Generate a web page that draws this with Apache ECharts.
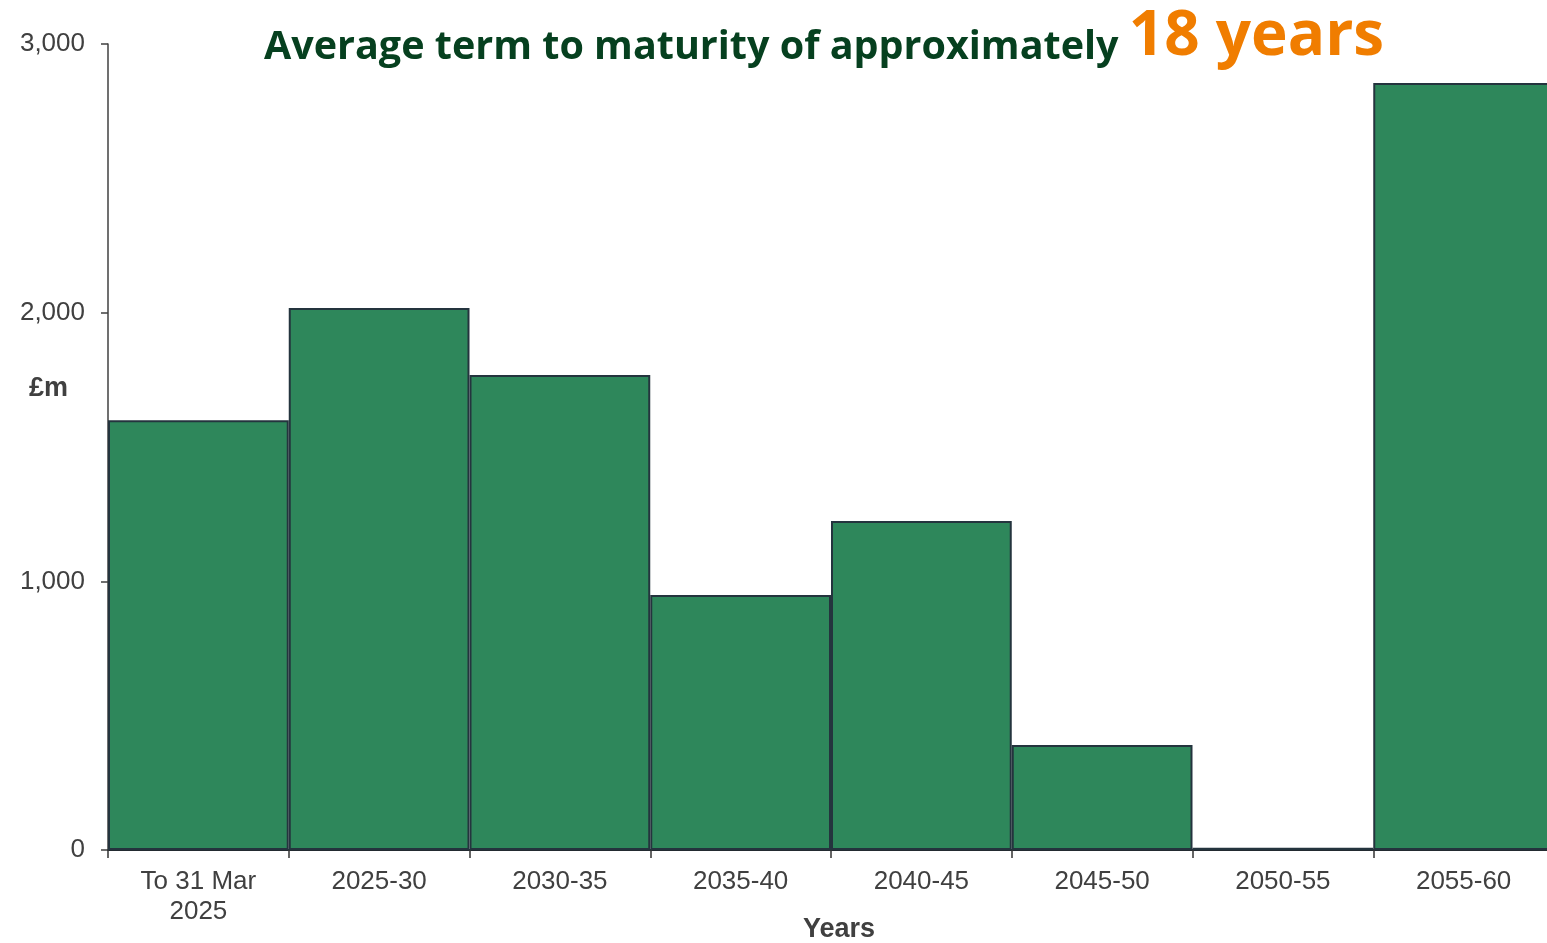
<!DOCTYPE html>
<html>
<head>
<meta charset="utf-8">
<script src="https://cdn.jsdelivr.net/npm/echarts@6/dist/echarts.min.js"></script>
<style>
html,body{margin:0;padding:0;background:#fff;}
#chart{width:1547px;height:943px;}
</style>
</head>
<body>
<div id="chart"></div>
<script>
var categories = ['To 31 Mar\n2025', '2025-30', '2030-35', '2035-40', '2040-45', '2045-50', '2050-55', '2055-60'];
var values = [1600, 2017, 1768, 949, 1225, 391, 8, 2855];
var yTicks = [0, 1000, 2000, 3000];

var chart = echarts.init(document.getElementById('chart'), null, {renderer: 'canvas'});
chart.setOption({
  animation: false,
  backgroundColor: '#ffffff',
  title: {
    left: 264,
    top: -16,
    padding: 0,
    text: '{a|Average term to maturity of approximately }{b|18 years}',
    textStyle: {
      rich: {
        a: {fontFamily: 'Open Sans', fontWeight: 'bold', fontSize: 39.5, color: '#06401f', verticalAlign: 'bottom', lineHeight: 84},
        b: {fontFamily: 'Open Sans', fontWeight: 'bold', fontSize: 62, color: '#f07d00', verticalAlign: 'bottom', lineHeight: 84}
      }
    }
  },
  grid: {left: 108, right: -7, top: 44, bottom: 93, containLabel: false, outerBoundsMode: 'none'},
  xAxis: {
    type: 'category',
    data: categories,
    name: 'Years',
    nameLocation: 'middle',
    nameGap: 66,
    nameMoveOverlap: false,
    nameTextStyle: {fontFamily: 'Liberation Sans', fontWeight: 'bold', fontSize: 27, color: '#404040', padding: [0, 0, 0, 16]},
    axisLine: {lineStyle: {color: '#222a30', width: 2}},
    axisTick: {show: true, alignWithLabel: false, length: 8, lineStyle: {color: '#333', width: 1.5}},
    axisLabel: {fontFamily: 'Liberation Sans', fontSize: 26, color: '#404040', margin: 17, lineHeight: 30, interval: 0}
  },
  yAxis: {
    type: 'value',
    min: 0,
    max: 3000,
    interval: 1000,
    splitLine: {show: false},
    axisLine: {show: true, lineStyle: {color: '#404040', width: 1.5}},
    axisTick: {show: true, length: 7, lineStyle: {color: '#404040', width: 1.5}},
    axisLabel: {
      fontFamily: 'Liberation Sans', fontSize: 26, color: '#404040', margin: 23,
      formatter: function (v) { return yTicks.indexOf(v) >= 0 ? v.toLocaleString('en-GB') : ''; }
    }
  },
  graphic: [{
    type: 'text', left: 29, top: 375,
    style: {text: '£m', fontFamily: 'Liberation Sans', fontWeight: 'bold', fontSize: 27, fill: '#404040'}
  }],
  series: [{
    type: 'bar',
    data: values,
    barWidth: '100%',
    barCategoryGap: 0,
    itemStyle: {color: '#2e875b', borderColor: '#24343e', borderWidth: 2}
  }]
});
</script>
</body>
</html>
